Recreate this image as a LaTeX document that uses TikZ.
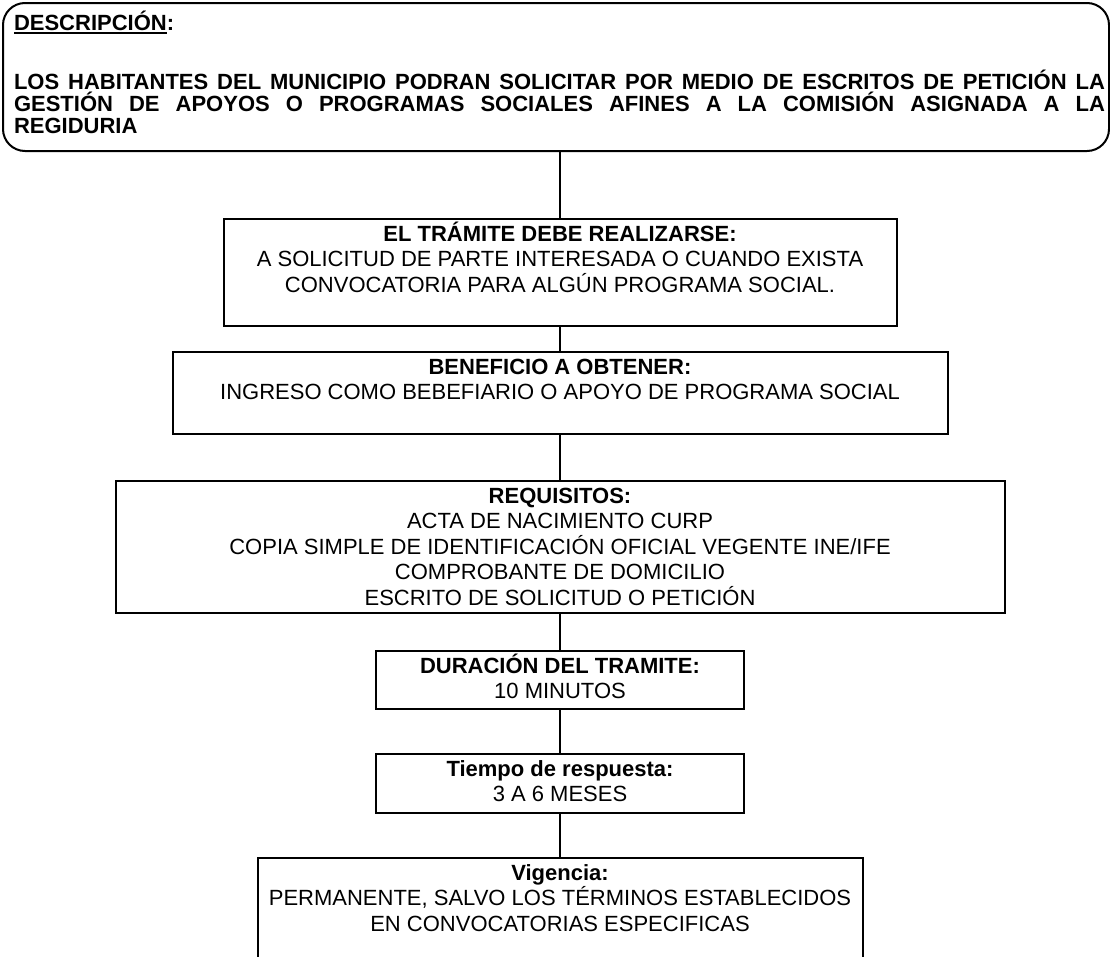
\documentclass[tikz,border=0pt]{standalone}
\usepackage{fontspec}
\setmainfont{Liberation Sans}
\tikzset{
  stepbox/.style={draw, line width=2pt, inner sep=0pt, anchor=north},
  descbox/.style={draw, line width=2pt, inner sep=0pt, anchor=north west, rounded corners=22pt},
  link/.style={line width=1.6pt},
}
\newcommand{\boxtext}[3]{\parbox[c][#2][t]{#1}{\centering\fontsize{22}{25.5}\selectfont\rule{0pt}{22pt}#3}}
\newcommand{\ulin}[1]{\setbox0\hbox{#1}\rlap{\rule[-3.5pt]{\wd0}{1.5pt}}\box0}
\begin{document}
\begin{tikzpicture}[x=1pt,y=-1pt]
\useasboundingbox (0,0) rectangle (1110,956);
\clip (0,0) rectangle (1110,956);
\node[descbox] (desc) at (2,2) {\parbox[c][148pt][t]{1106pt}{\leftskip=11pt \rightskip=4pt \fontsize{22}{22.5}\selectfont\bfseries
\rule{0pt}{27pt}\ulin{DESCRIPCIÓN}:\par
\vspace{35pt}%
\makebox[1091pt][s]{LOS HABITANTES DEL MUNICIPIO PODRAN SOLICITAR POR MEDIO DE ESCRITOS DE PETICIÓN LA}\par
\makebox[1091pt][s]{GESTIÓN DE APOYOS O PROGRAMAS SOCIALES AFINES A LA COMISIÓN ASIGNADA A LA}\par
REGIDURIA\par}};
\node[stepbox] (b1) at (560,218) {\boxtext{673pt}{107pt}{\textbf{EL TRÁMITE DEBE REALIZARSE:}\\A SOLICITUD DE PARTE INTERESADA O CUANDO EXISTA\\CONVOCATORIA PARA ALGÚN PROGRAMA SOCIAL.}};
\node[stepbox] (b2) at (560,351) {\boxtext{775pt}{82pt}{\textbf{BENEFICIO A OBTENER:}\\INGRESO COMO BEBEFIARIO O APOYO DE PROGRAMA SOCIAL}};
\node[stepbox] (b3) at (560,480) {\boxtext{889pt}{132pt}{\textbf{REQUISITOS:}\\ACTA DE NACIMIENTO CURP\\COPIA SIMPLE DE IDENTIFICACIÓN OFICIAL VEGENTE INE/IFE\\COMPROBANTE DE DOMICILIO\\ESCRITO DE SOLICITUD O PETICIÓN}};
\node[stepbox] (b4) at (560,650) {\boxtext{368pt}{58pt}{\textbf{DURACIÓN DEL TRAMITE:}\\10 MINUTOS}};
\node[stepbox] (b5) at (560,753) {\boxtext{368pt}{59pt}{\textbf{Tiempo de respuesta:}\\3 A 6 MESES}};
\node[stepbox] (b6) at (560,857) {\boxtext{605pt}{130pt}{\textbf{Vigencia:}\\PERMANENTE, SALVO LOS TÉRMINOS ESTABLECIDOS\\EN CONVOCATORIAS ESPECIFICAS}};
\draw[link] (b1.north |- desc.south) -- (b1.north);
\draw[link] (b1.south) -- (b2.north);
\draw[link] (b2.south) -- (b3.north);
\draw[link] (b3.south) -- (b4.north);
\draw[link] (b4.south) -- (b5.north);
\draw[link] (b5.south) -- (b6.north);
\end{tikzpicture}
\end{document}
